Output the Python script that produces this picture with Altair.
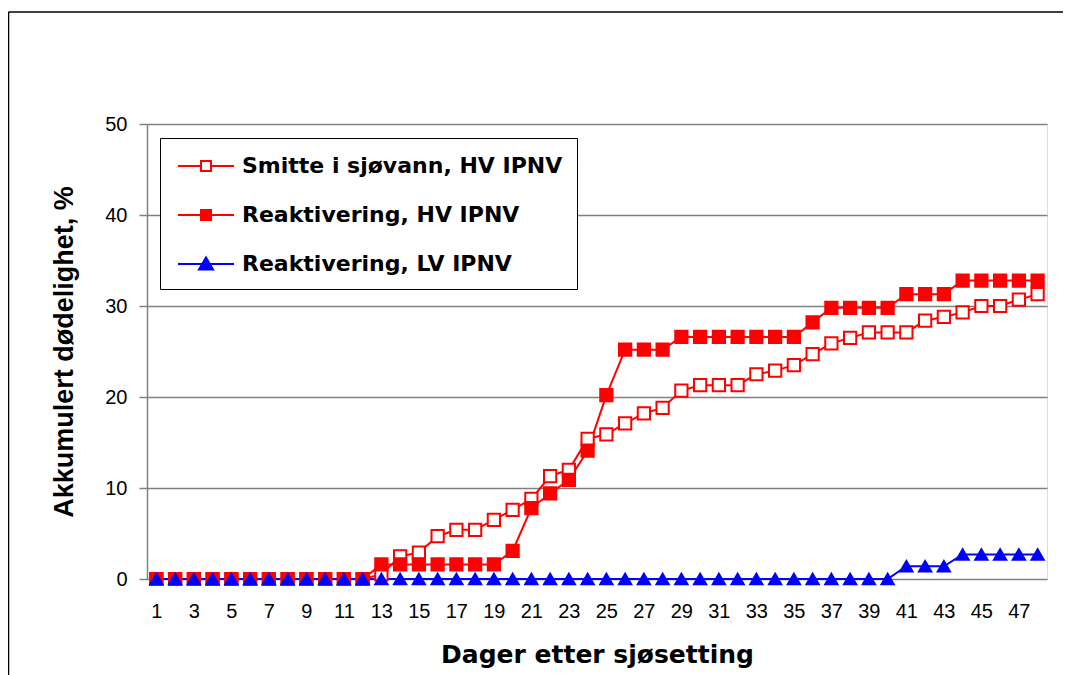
import altair as alt
import pandas as pd

dager = [1, 2, 3, 4, 5, 6, 7, 8, 9, 10, 11, 12, 13, 14, 15, 16, 17, 18, 19, 20,
         21, 22, 23, 24, 25, 26, 27, 28, 29, 30, 31, 32, 33, 34, 35, 36, 37, 38, 39, 40,
         41, 42, 43, 44, 45, 46, 47, 48]

smitte_hv = [0, 0, 0, 0, 0, 0, 0, 0, 0, 0, 0, 0,
             0.5, 2.5, 2.9, 4.7, 5.4, 5.4, 6.5, 7.6, 8.8, 11.3, 12.0, 15.4,
             15.9, 17.1, 18.2, 18.8, 20.7, 21.3, 21.3, 21.3, 22.5, 22.9, 23.5, 24.7,
             25.9, 26.5, 27.1, 27.1, 27.1, 28.4, 28.8, 29.3, 30.0, 30.0, 30.7, 31.3]

reakt_hv = [0, 0, 0, 0, 0, 0, 0, 0, 0, 0, 0, 0,
            1.6, 1.6, 1.6, 1.6, 1.6, 1.6, 1.6, 3.1, 7.8, 9.4, 10.9, 14.1,
            20.2, 25.2, 25.2, 25.2, 26.6, 26.6, 26.6, 26.6, 26.6, 26.6, 26.6, 28.2,
            29.8, 29.8, 29.8, 29.8, 31.3, 31.3, 31.3, 32.8, 32.8, 32.8, 32.8, 32.8]

reakt_lv = [0, 0, 0, 0, 0, 0, 0, 0, 0, 0, 0, 0,
            0, 0, 0, 0, 0, 0, 0, 0, 0, 0, 0, 0,
            0, 0, 0, 0, 0, 0, 0, 0, 0, 0, 0, 0,
            0, 0, 0, 0, 1.4, 1.4, 1.4, 2.7, 2.7, 2.7, 2.7, 2.7]

serier = ["Smitte i sjøvann, HV IPNV", "Reaktivering, HV IPNV", "Reaktivering, LV IPNV"]
x_ticks = [1, 3, 5, 7, 9, 11, 13, 15, 17, 19, 21, 23, 25, 27, 29, 31, 33, 35, 37, 39, 41, 43, 45, 47]

rows = []
for navn, verdier in zip(serier, [smitte_hv, reakt_hv, reakt_lv]):
    for d, v in zip(dager, verdier):
        rows.append({"dag": d, "verdi": v, "serie": navn})
df = pd.DataFrame(rows)

FONT = "Liberation Sans"
WIDE = "DejaVu Sans"
stroke_range = ["#ff0000", "#ff0000", "#0000ff"]
fill_range = ["#ffffff", "#ff0000", "#0000ff"]

x_enc = alt.X("dag:Q",
              scale=alt.Scale(domain=[0.5, 48.5], nice=False, zero=False),
              axis=alt.Axis(values=x_ticks, title="Dager etter sjøsetting", grid=False,
                            ticks=False, domain=False, labelFontSize=20, labelPadding=22,
                            labelColor="#000000", labelFont=FONT, titleFont=WIDE,
                            titleFontSize=25, titleFontWeight="bold", titleColor="#000000",
                            titlePadding=21, labelFlush=False))
y_enc = alt.Y("verdi:Q",
              scale=alt.Scale(domain=[0, 50], nice=False),
              axis=alt.Axis(values=[0, 10, 20, 30, 40, 50], title="Akkumulert dødelighet, %",
                            grid=True, gridColor="#808080", gridWidth=1.5,
                            domain=True, domainColor="#808080", domainWidth=1.5,
                            ticks=True, tickSize=8, tickColor="#808080", tickWidth=1.5,
                            labelFontSize=20, labelPadding=12, labelColor="#000000",
                            labelFont=FONT, titleFont=FONT, titleFontSize=27,
                            titleFontWeight="bold", titleColor="#000000", titlePadding=26))

base = alt.Chart(df)

lines = base.mark_line(strokeWidth=2).encode(
    x=x_enc, y=y_enc,
    stroke=alt.Stroke("serie:N", scale=alt.Scale(domain=serier, range=stroke_range), legend=None),
    detail="serie:N",
)

points = base.mark_point(size=150, strokeWidth=2, opacity=1, filled=False).encode(
    x=x_enc, y=y_enc,
    shape=alt.Shape("serie:N", scale=alt.Scale(domain=serier, range=["square", "square", "triangle-up"]), legend=None),
    fill=alt.Fill("serie:N", scale=alt.Scale(domain=serier, range=fill_range), legend=None),
    stroke=alt.Stroke("serie:N", scale=alt.Scale(domain=serier, range=stroke_range), legend=None),
)

legend_paths = [
    "M-0.77,0H1.0M1.77,0H3.54M1.0,-0.385H1.77V0.385H1.0Z",
    "M-0.77,0H1.0M1.77,0H3.54M1.0,-0.385H1.77V0.385H1.0Z",
    "M-0.77,0H3.54M1.385,-0.5L1.925,0.42H0.845Z",
]
leg = alt.Legend(title=None, orient="none", legendX=13, legendY=14,
                 symbolSize=676, symbolStrokeWidth=2, labelFontSize=22,
                 labelFontWeight="bold", labelFont=WIDE, labelColor="#000000",
                 labelOffset=40, rowPadding=24, padding=14,
                 strokeColor="#000000", fillColor="#ffffff", labelLimit=600)

legend_layer = base.transform_filter("datum.verdi < -100").mark_point(opacity=1, filled=False).encode(
    x=x_enc, y=y_enc,
    shape=alt.Shape("serie:N", scale=alt.Scale(domain=serier, range=legend_paths), legend=leg),
    fill=alt.Fill("serie:N", scale=alt.Scale(domain=serier, range=fill_range), legend=leg),
    stroke=alt.Stroke("serie:N", scale=alt.Scale(domain=serier, range=stroke_range), legend=leg),
)

frame_df = pd.DataFrame({"k": [0]})
frame_top = alt.Chart(frame_df).mark_rule(stroke="#000000", strokeWidth=1.5).encode(
    x=alt.value(-138.5), x2=alt.value(1000), y=alt.value(-112))
frame_left = alt.Chart(frame_df).mark_rule(stroke="#000000", strokeWidth=1.5).encode(
    x=alt.value(-138.5), y=alt.value(-112), y2=alt.value(700))

chart = alt.layer(frame_top, frame_left, lines, points, legend_layer).resolve_scale(
    shape="independent", fill="independent", stroke="independent"
).resolve_legend(
    shape="independent", fill="independent", stroke="independent"
).properties(
    width=900, height=455,
    padding={"left": 139, "top": 116, "right": 16, "bottom": 100},
    autosize=alt.AutoSizeParams(type="none"),
).configure_view(stroke=None).configure(background="#ffffff")

chart.save("out.html", embed_options={"renderer": "svg", "actions": False})
